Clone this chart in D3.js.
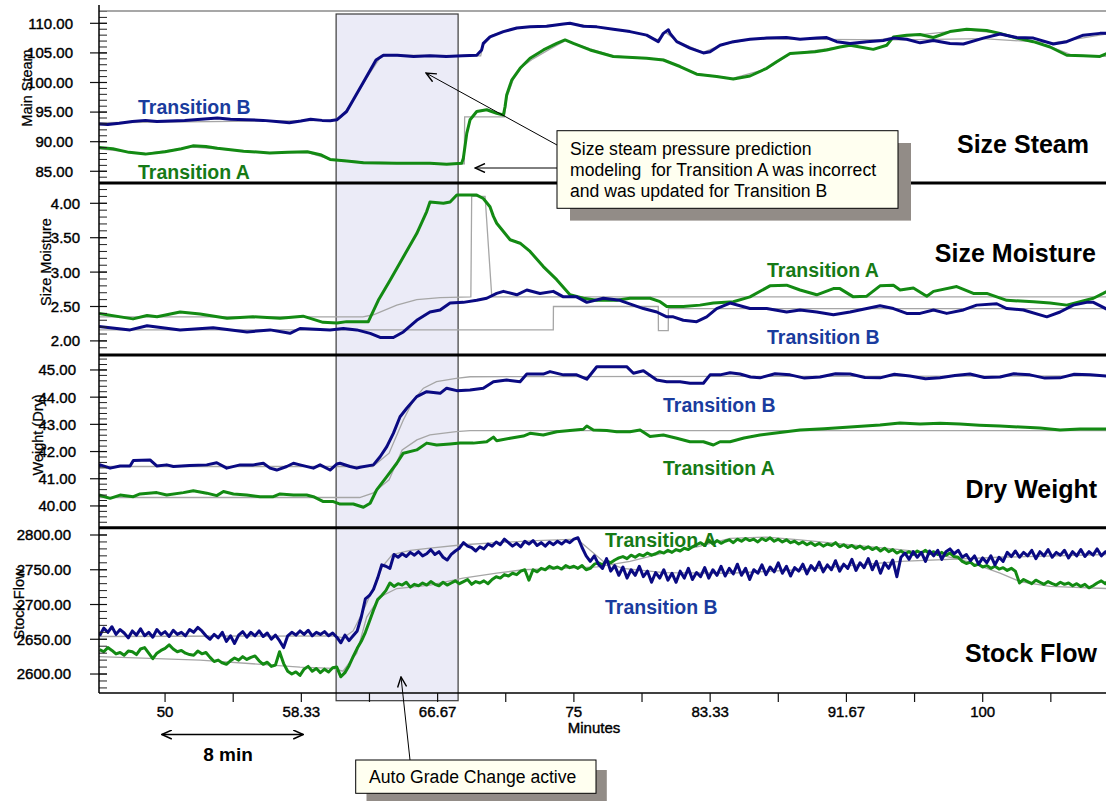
<!DOCTYPE html>
<html><head><meta charset="utf-8">
<script src="https://cdn.jsdelivr.net/npm/d3@7/dist/d3.min.js"></script>
<style>body{margin:0;background:#fff;} svg{display:block;font-family:Arial,"Liberation Sans",sans-serif;} .heavy{stroke:#000;stroke-width:0.4px;}</style>
</head><body><svg id="c" width="1106" height="801"></svg>
<script>
// ---------- DATA ----------
const xTickVals = [50, 58.333, 66.667, 75, 83.333, 91.667, 100];
const xTickLabels = ["50", "58.33", "66.67", "75", "83.33", "91.67", "100"];
const steamTicks = [85, 90, 95, 100, 105, 110];
const moistTicks = [2, 2.5, 3, 3.5, 4];
const weightTicks = [40, 41, 42, 43, 44, 45];
const flowTicks = [2600, 2650, 2700, 2750, 2800];

const steamB = [[45.96,93.0],[46.5,92.9],[47.2,93.1],[48.0,93.4],[48.8,93.6],[49.5,93.4],[50.3,93.5],[51.2,93.6],[52.2,93.8],[53.2,94.0],[54.0,93.8],[55.0,93.7],[56.0,93.6],[56.8,93.4],[57.6,93.2],[58.3,93.5],[58.9,93.8],[59.6,93.6],[60.1,93.55],[60.5,93.7],[61.1,95.1],[62.1,99.9],[62.9,103.8],[63.35,104.6],[64.2,104.6],[65.2,104.4],[66.2,104.5],[67.2,104.4],[68.2,104.5],[69.06,104.6],[69.36,105.5],[69.46,106.6],[69.87,107.7],[70.69,108.6],[71.51,109.2],[72.32,109.4],[73.34,109.5],[74.36,109.9],[74.76,110.0],[75.58,109.5],[76.4,109.4],[77.41,109.0],[78.43,108.6],[79.45,108.0],[80.16,106.9],[80.47,108.3],[80.78,108.9],[80.88,108.3],[81.29,106.9],[82.1,105.8],[82.92,105.0],[83.33,105.2],[83.94,106.3],[84.75,106.9],[85.77,107.3],[86.79,107.5],[88.0,107.6],[88.83,107.3],[89.85,107.5],[90.46,107.6],[91.07,106.9],[91.89,106.6],[92.91,106.9],[93.92,107.1],[94.54,107.5],[95.35,107.3],[96.17,106.7],[96.98,107.1],[98.0,106.6],[98.82,106.5],[100.04,107.5],[101.06,108.2],[102.08,107.6],[103.1,107.5],[104.32,106.5],[105.14,106.9],[106.15,108.0],[107.17,108.3],[107.6,108.3]];
const steamA = [[45.96,89.0],[46.8,88.8],[47.8,88.2],[48.8,87.9],[50.0,88.3],[51.0,88.8],[51.7,89.3],[52.5,89.2],[53.2,88.9],[54.8,88.4],[56.4,88.1],[57.5,88.2],[58.7,88.3],[59.5,87.8],[60.09,87.0],[61.11,86.75],[62.13,86.45],[64.17,86.35],[66.2,86.35],[67.22,86.2],[68.14,86.35],[68.24,87.2],[68.45,91.4],[68.65,93.7],[69.06,95.1],[69.67,95.4],[70.28,94.8],[70.69,94.5],[70.79,95.9],[70.89,97.9],[71.2,100.4],[71.71,102.4],[72.32,104.1],[73.14,105.5],[73.95,106.6],[74.46,107.2],[74.97,106.6],[75.99,105.5],[77.41,104.4],[79.45,104.1],[80.47,103.8],[81.49,102.7],[82.51,101.4],[83.73,101.0],[84.75,100.6],[85.77,101.1],[86.79,102.4],[87.4,103.5],[88.22,104.9],[89.75,105.2],[90.46,105.5],[91.27,106.0],[91.89,106.3],[92.5,106.0],[93.31,105.6],[94.13,106.3],[94.54,107.7],[95.35,108.0],[96.17,108.1],[96.98,107.6],[98.0,108.6],[99.02,109.0],[100.24,108.8],[101.06,108.3],[102.08,107.5],[103.1,106.9],[104.12,106.0],[105.14,104.6],[106.15,104.5],[107.17,104.4],[107.6,104.9]];
const steamGrayA = [[45.96,88.8],[48.8,88.0],[51.7,89.1],[56.4,88.1],[58.7,88.2],[60.1,87.0],[62.1,86.6],[66.2,86.3],[68.3,86.25],[68.32,94.2],[70.75,94.2],[70.9,97.5],[71.3,100.6],[71.8,102.6],[72.5,104.0],[73.5,105.6],[74.5,107.1],[76.0,105.7],[77.4,104.5],[80.5,103.9],[82.5,101.5],[84.7,100.7],[86.8,102.3],[88.2,104.8],[91.3,106.0],[94.5,107.6],[96.2,108.1],[99.0,108.9],[101.1,108.3],[104.1,106.1],[105.5,104.6],[107.6,104.4]];
const steamGrayB = [[45.96,93.2],[60.5,93.6],[60.8,94.2],[61.5,97.0],[62.5,101.5],[63.2,104.4],[64.0,104.6],[69.3,104.5],[69.45,106.3],[70.0,108.0],[71.5,109.2],[74.8,110.0],[77.4,109.0],[79.4,108.1],[80.1,107.2],[80.6,108.5],[81.3,107.0],[82.9,105.1],[84.0,106.3],[86.0,107.4],[90.0,107.3],[95.0,107.2],[100.0,107.4],[104.3,106.7],[107.6,108.2]];

const moistA = [[45.96,2.40],[48.04,2.32],[48.9,2.37],[49.51,2.35],[50.92,2.42],[52.14,2.39],[53.79,2.33],[55.38,2.35],[57.03,2.33],[58.44,2.36],[59.66,2.27],[60.52,2.26],[61.11,2.28],[62.43,2.28],[63.04,2.59],[63.76,2.88],[64.57,3.22],[65.39,3.56],[66.0,3.88],[66.2,4.02],[67.02,4.0],[67.43,4.02],[67.84,4.12],[69.06,4.12],[69.46,4.07],[69.87,3.95],[70.08,3.81],[70.28,3.71],[71.1,3.47],[71.71,3.42],[72.32,3.30],[73.13,3.08],[73.95,2.89],[74.76,2.67],[75.58,2.62],[76.4,2.59],[77.62,2.59],[78.43,2.62],[79.66,2.62],[80.27,2.57],[80.68,2.50],[81.69,2.50],[82.71,2.52],[83.53,2.55],[84.75,2.57],[85.77,2.64],[86.99,2.80],[88.01,2.81],[88.83,2.74],[89.85,2.67],[90.87,2.76],[91.27,2.76],[92.09,2.64],[92.91,2.65],[93.72,2.80],[94.54,2.81],[94.95,2.74],[95.76,2.77],[96.58,2.65],[96.99,2.72],[98.41,2.79],[99.43,2.69],[100.25,2.69],[101.47,2.59],[103.1,2.57],[104.12,2.55],[105.14,2.52],[106.77,2.62],[107.37,2.69],[107.6,2.72]];
const moistB = [[45.96,2.21],[47.86,2.16],[48.9,2.22],[50.92,2.16],[52.94,2.19],[55.01,2.13],[56.42,2.16],[57.64,2.11],[58.25,2.18],[60.09,2.16],[60.9,2.18],[61.72,2.16],[62.54,2.11],[63.15,2.05],[63.96,2.05],[64.57,2.13],[65.39,2.30],[66.2,2.42],[66.82,2.45],[67.43,2.55],[68.24,2.56],[69.06,2.59],[69.67,2.62],[70.28,2.69],[70.69,2.72],[71.51,2.67],[72.12,2.74],[72.93,2.69],[73.74,2.72],[74.36,2.64],[75.17,2.64],[75.79,2.56],[76.8,2.62],[77.82,2.59],[78.02,2.57],[79.25,2.47],[80.07,2.42],[80.68,2.35],[81.08,2.35],[81.69,2.30],[82.51,2.28],[83.12,2.35],[83.73,2.47],[84.55,2.55],[85.77,2.47],[86.79,2.47],[88.01,2.42],[88.83,2.45],[89.85,2.42],[90.87,2.38],[91.89,2.42],[93.72,2.51],[94.54,2.47],[95.35,2.40],[96.17,2.40],[96.99,2.45],[97.8,2.40],[98.82,2.45],[99.63,2.52],[100.86,2.54],[101.47,2.47],[102.49,2.45],[103.92,2.35],[104.73,2.42],[105.54,2.52],[106.36,2.56],[106.77,2.56],[107.6,2.46]];
const moistGrayA = [[45.96,2.35],[62.1,2.35],[62.74,2.38],[64.17,2.52],[65.39,2.60],[66.82,2.63],[68.7,2.64],[68.75,4.10],[69.57,4.10],[69.98,2.64],[107.6,2.64]];
const moistGrayB = [[45.96,2.16],[73.74,2.16],[73.75,2.50],[80.16,2.50],[80.17,2.15],[80.77,2.15],[80.78,2.47],[107.6,2.47]];

const weightB = [[45.96,41.45],[46.03,41.51],[46.64,41.39],[47.25,41.47],[47.86,41.47],[48.06,41.67],[49.08,41.69],[49.49,41.47],[50.1,41.51],[50.51,41.45],[51.5,41.49],[52.55,41.51],[53.16,41.59],[53.77,41.39],[54.59,41.51],[55.4,41.51],[56.01,41.57],[56.42,41.39],[56.83,41.32],[57.44,41.45],[57.85,41.57],[58.25,41.51],[59.07,41.39],[59.48,41.51],[60.09,41.32],[60.5,41.54],[60.7,41.57],[61.31,41.45],[61.72,41.39],[61.92,41.42],[62.74,41.51],[63.15,41.81],[63.56,42.18],[63.96,42.67],[64.37,43.28],[64.78,43.59],[65.39,44.02],[66.0,44.20],[66.82,44.14],[67.22,44.33],[67.84,44.24],[68.65,44.26],[69.46,44.33],[70.08,44.57],[70.89,44.63],[71.71,44.57],[72.12,44.85],[73.13,44.85],[73.54,44.94],[74.36,44.82],[75.17,44.82],[75.79,44.66],[76.4,45.12],[77.42,45.12],[78.23,45.12],[78.64,44.88],[79.25,44.97],[80.07,44.63],[80.68,44.57],[81.49,44.57],[82.1,44.51],[82.92,44.51],[83.33,44.82],[83.94,44.82],[84.55,44.90],[85.16,44.85],[85.8,44.74],[86.38,44.71],[87.3,44.86],[88.22,44.82],[89.1,44.70],[90.05,44.74],[91.0,44.86],[91.89,44.85],[92.8,44.72],[93.72,44.71],[94.6,44.84],[95.55,44.78],[96.5,44.68],[97.39,44.71],[98.3,44.80],[99.22,44.85],[100.1,44.72],[101.06,44.74],[101.9,44.86],[102.89,44.82],[103.8,44.70],[104.73,44.71],[105.6,44.84],[106.56,44.82],[107.6,44.78]];
const weightA = [[45.96,40.40],[46.64,40.28],[47.25,40.40],[48.06,40.34],[48.47,40.44],[49.49,40.49],[50.1,40.40],[51.12,40.49],[51.73,40.56],[52.55,40.47],[53.16,40.38],[53.57,40.53],[54.18,40.44],[54.99,40.40],[55.81,40.34],[56.62,40.34],[57.03,40.44],[57.85,40.40],[58.66,40.40],[59.07,40.34],[59.68,40.16],[60.29,40.16],[60.7,40.07],[61.51,40.07],[62.13,39.95],[62.54,40.10],[62.94,40.59],[63.56,41.08],[64.17,41.57],[64.57,41.94],[65.39,42.06],[66.0,42.31],[66.61,42.24],[67.43,42.28],[68.04,42.31],[68.85,42.31],[69.67,42.36],[70.08,42.53],[70.28,42.40],[71.1,42.49],[71.91,42.57],[72.32,42.67],[73.13,42.61],[73.95,42.73],[74.76,42.77],[75.58,42.82],[75.79,42.94],[76.19,42.79],[77.01,42.77],[77.62,42.73],[78.43,42.73],[79.05,42.79],[79.66,42.55],[80.47,42.61],[81.29,42.49],[82.1,42.36],[82.92,42.36],[83.53,42.24],[83.94,42.36],[84.55,42.36],[85.4,42.50],[86.38,42.61],[87.6,42.70],[88.83,42.79],[90.3,42.84],[91.89,42.90],[92.8,42.94],[93.72,42.98],[94.94,43.05],[96.17,43.01],[97.4,43.04],[98.61,43.01],[99.8,42.97],[101.06,42.94],[102.3,42.90],[103.5,42.87],[104.73,42.79],[105.95,42.83],[107.6,42.83]];
const weightGrayA = [[45.96,40.31],[61.9,40.31],[62.7,40.47],[63.7,40.96],[64.5,42.06],[65.4,42.43],[66.2,42.61],[67.8,42.73],[68.65,42.77],[107.6,42.77]];
const weightGrayB = [[45.96,41.45],[62.7,41.45],[63.7,41.94],[64.57,43.16],[65.2,43.90],[65.8,44.33],[66.6,44.57],[67.8,44.69],[68.65,44.75],[107.6,44.78]];

// Stock flow sampled every 0.25 min starting at 46.0 min
const flowStart = 46, flowStep = 0.25;
const flowB = [
2655,2666,2660,2668,2657,2664,2659,2652, 2662,2656,2665,2655,2660,2653,2664,2657,
2661,2654,2663,2657,2660,2655,2664,2660, 2667,2662,2655,2650,2657,2652,2660,2647,
2655,2644,2656,2661,2653,2660,2655,2662, 2654,2659,2650,2656,2648,2638,2655,2660,
2656,2662,2657,2663,2655,2660,2657,2661, 2655,2659,2653,2645,2656,2648,2655,2662,
2682,2708,2713,2722,2738,2757,2755,2752, 2772,2768,2773,2769,2775,2771,2776,2770,
2773,2779,2772,2776,2768,2764,2772,2777, 2781,2789,2784,2782,2777,2783,2780,2787,
2784,2790,2786,2794,2789,2784,2788,2783, 2791,2787,2792,2785,2789,2784,2790,2786,
2791,2787,2792,2789,2794,2796,2782,2770, 2762,2770,2758,2752,2766,2748,2756,2742,
2754,2738,2750,2742,2755,2740,2748,2732, 2746,2738,2750,2735,2745,2732,2748,2738,
2752,2736,2746,2740,2753,2738,2750,2742, 2755,2741,2752,2744,2758,2742,2752,2736,
2750,2745,2757,2743,2754,2747,2760,2745, 2755,2741,2753,2748,2758,2744,2756,2749,
2761,2747,2757,2750,2763,2748,2758,2752, 2765,2749,2760,2753,2766,2750,2762,2745,
2760,2752,2764,2740,2768,2774,2765,2776, 2768,2775,2762,2777,2770,2778,2765,2776,
2780,2773,2778,2768,2772,2763,2770,2758, 2767,2760,2770,2757,2768,2762,2775,2769,
2777,2768,2775,2770,2778,2766,2776,2770, 2779,2768,2775,2771,2778,2767,2776,2770,
2779,2769,2776,2771,2780,2770,2776,2772];
const flowA = [
2635,2632,2638,2634,2629,2631,2627,2633, 2632,2628,2636,2638,2630,2622,2630,2634,
2637,2642,2636,2632,2634,2630,2628,2627, 2633,2629,2631,2624,2618,2620,2616,2614,
2619,2623,2620,2625,2621,2624,2626,2619, 2614,2617,2611,2613,2632,2615,2604,2600,
2603,2598,2607,2611,2604,2608,2602,2607, 2603,2609,2610,2596,2602,2612,2625,2637,
2647,2660,2676,2692,2707,2713,2720,2731, 2726,2730,2728,2732,2725,2729,2727,2731,
2728,2733,2729,2727,2732,2728,2731,2734, 2730,2733,2736,2729,2733,2731,2734,2730,
2736,2740,2738,2743,2741,2745,2743,2748, 2750,2735,2750,2747,2752,2750,2755,2752,
2754,2751,2756,2753,2755,2752,2756,2750, 2752,2758,2760,2757,2763,2760,2764,2767,
2769,2766,2771,2768,2772,2770,2774,2771, 2773,2776,2774,2778,2775,2779,2777,2781,
2779,2783,2786,2789,2785,2793,2787,2792, 2788,2791,2793,2789,2794,2791,2795,2792,
2794,2790,2795,2792,2796,2791,2794,2790, 2793,2789,2791,2787,2790,2786,2789,2785,
2788,2784,2787,2785,2789,2783,2786,2782, 2785,2781,2784,2780,2783,2779,2782,2777,
2781,2776,2779,2774,2777,2773,2776,2772, 2777,2774,2778,2773,2776,2772,2775,2771,
2774,2769,2768,2762,2759,2761,2756,2758, 2754,2756,2752,2755,2751,2753,2749,2752,
2748,2731,2736,2733,2730,2735,2732,2729, 2733,2730,2728,2732,2729,2731,2727,2730,
2726,2729,2724,2727,2731,2734,2730,2736];
const flowGrayA = [[45.96,2625],[52.14,2620],[58.25,2610],[60.27,2608],[60.88,2604],[61.72,2630],[62.33,2682],[63.15,2711],[64.17,2723],[66.2,2728],[68.22,2738],[70.28,2745],[71.89,2750],[74.34,2752],[76.42,2754],[78.43,2762],[80.45,2774],[82.53,2783],[84.55,2795],[86.81,2797],[88.83,2793],[94.94,2779],[96.96,2774],[99.04,2762],[101.06,2745],[102.28,2733],[104.11,2726],[107.6,2723]];
const flowGrayB = [[45.96,2654],[60.27,2655],[60.9,2652],[61.5,2662],[62.1,2690],[62.7,2722],[63.3,2755],[63.9,2772],[65.0,2778],[66.2,2781],[68.2,2786],[70.3,2789],[72.7,2792],[75.2,2794],[76.0,2778],[76.8,2762],[78.0,2752],[80.5,2746],[84.5,2745],[88.8,2750],[95.0,2762],[101.0,2768],[107.6,2772]];

// ---------- DRAW ----------
const svg = d3.select("#c");
const colA = "#138a13", colB = "#0a0a82", gray = "#a6a6a6";
const labA = "#167a16", labB = "#1a3c9e";
const x = d3.scaleLinear().domain([45.96, 107.54]).range([99, 1106]);
const L = 99, R = 1106;

const panels = [
  {id:"p1", top:11, bot:183, dom:[112.08,83.02], ticks:steamTicks, minor:1, labR:73, title:"Main Steam", tx:27, ty:88,
   gray:[steamGrayA, steamGrayB], A:steamA, B:steamB},
  {id:"p2", top:183.7, bot:355, dom:[4.285,1.795], ticks:moistTicks, minor:0.1, labR:80, title:"Size Moisture", tx:46, ty:262,
   gray:[moistGrayA, moistGrayB], A:moistA, B:moistB},
  {id:"p3", top:355, bot:527.7, dom:[45.55,39.2], ticks:weightTicks, minor:0.2, labR:76, title:"Weight (Dry)", tx:38, ty:435,
   gray:[weightGrayA, weightGrayB], A:weightA, B:weightB},
  {id:"p4", top:527.7, bot:693, dom:[2810.5,2572.7], ticks:flowTicks, minor:10, labR:71, title:"Stock Flow", tx:19, ty:604,
   gray:[flowGrayA, flowGrayB],
   A:flowA.map((v,i)=>[flowStart+i*flowStep, v]), B:flowB.map((v,i)=>[flowStart+i*flowStep, v])}
];

// grade change shaded box (behind data)
svg.append("rect").attr("x", x(60.46)).attr("y", 14).attr("width", x(67.92)-x(60.46)).attr("height", 686.7)
  .attr("fill", "#ebebf7").attr("stroke", "#3a3a3a").attr("stroke-width", 1.2);

const defs = svg.append("defs");
panels.forEach(p => {
  p.y = d3.scaleLinear().domain(p.dom).range([p.top, p.bot]);
  defs.append("clipPath").attr("id", "clip-"+p.id).append("rect")
    .attr("x", L).attr("y", p.top).attr("width", R-L).attr("height", p.bot-p.top);
  const line = d3.line().x(d => x(d[0])).y(d => p.y(d[1]));
  const g = svg.append("g").attr("clip-path", "url(#clip-"+p.id+")");
  p.gray.forEach(s => g.append("path").attr("d", line(s)).attr("fill","none").attr("stroke",gray).attr("stroke-width",1.3));
  g.append("path").attr("d", line(p.A)).attr("fill","none").attr("stroke",colA).attr("stroke-width",3).attr("stroke-linejoin","round");
  g.append("path").attr("d", line(p.B)).attr("fill","none").attr("stroke",colB).attr("stroke-width",3).attr("stroke-linejoin","round");

  // y-axis title (drawn first so tick labels overlap it as in the original)
  svg.append("text").attr("class","heavy").attr("transform", `translate(${p.tx},${p.ty}) rotate(-90)`).attr("text-anchor","middle")
    .attr("dy","0.35em").attr("font-size","14.5px").attr("fill","#000").style("stroke-width","0.25px").text(p.title);

  // y ticks
  const ax = svg.append("g");
  const d0 = Math.min(...p.dom), d1 = Math.max(...p.dom);
  const minors = d3.range(Math.ceil(d0/p.minor)*p.minor, d1, p.minor).filter(v => v>d0 && v<d1);
  minors.forEach(v => ax.append("line").attr("x1", L).attr("x2", L+8).attr("y1", p.y(v)).attr("y2", p.y(v)).attr("stroke","#222").attr("stroke-width",1));
  p.ticks.forEach(v => {
    ax.append("line").attr("x1", L-9).attr("x2", L+8).attr("y1", p.y(v)).attr("y2", p.y(v)).attr("stroke","#111").attr("stroke-width",1.2);
    const t = ax.append("text").attr("class","heavy").attr("x", 0).attr("y", p.y(v)).attr("dy","0.36em")
      .attr("font-size","15px").attr("fill","#000").text(d3.format(".2f")(v));
    const w = t.node().getComputedTextLength();
    t.attr("x", p.labR - w);
  });
});

// frame lines
svg.append("line").attr("x1",L).attr("x2",R).attr("y1",11).attr("y2",11).attr("stroke","#8a8a8a").attr("stroke-width",1.5);
[183, 355, 527.7].forEach(yy => svg.append("line").attr("x1",L).attr("x2",R).attr("y1",yy).attr("y2",yy).attr("stroke","#000").attr("stroke-width",3));
svg.append("line").attr("x1",L).attr("x2",R).attr("y1",693).attr("y2",693).attr("stroke","#000").attr("stroke-width",1.5);
svg.append("line").attr("x1",L).attr("x2",L).attr("y1",5).attr("y2",693).attr("stroke","#000").attr("stroke-width",1.5);

// x axis
const xt = d3.range(0, 14).map(k => 50 + k*25/6).filter(v => v <= 107.5);
xt.forEach(v => svg.append("line").attr("x1",x(v)).attr("x2",x(v)).attr("y1",693).attr("y2",702).attr("stroke","#111").attr("stroke-width",1.2));
xTickVals.forEach((v,i) => svg.append("text").attr("class","heavy").attr("x",x(v)).attr("y",717).attr("text-anchor","middle")
  .attr("font-size","15px").attr("fill","#000").text(xTickLabels[i]));
svg.append("text").attr("class","heavy").attr("x",594).attr("y",732.5).attr("text-anchor","middle").attr("font-size","15px")
  .attr("fill","#000").text("Minutes");

// series labels
const lab = (t, xx, yy, c) => svg.append("text").attr("x",xx).attr("y",yy).attr("font-size","19.5px").attr("font-weight","bold").attr("fill",c).text(t);
lab("Transition B",138,114,labB); lab("Transition A",138,179,labA);
lab("Transition A",767,277,labA); lab("Transition B",767,344,labB);
lab("Transition B",663,412,labB); lab("Transition A",663,475,labA);
lab("Transition A",605,547,labA); lab("Transition B",605,614,labB);

// panel titles
const ttl = (t, xx, yy) => svg.append("text").attr("x",xx).attr("y",yy).attr("text-anchor","end").attr("font-size","25px").attr("font-weight","bold").attr("fill","#000").text(t);
ttl("Size Steam",1089,153); ttl("Size Moisture",1096,262); ttl("Dry Weight",1097,498); ttl("Stock Flow",1097,662);

// arrow marker
defs.append("marker").attr("id","arr").attr("viewBox","0 0 12 10").attr("refX",11).attr("refY",5)
  .attr("markerWidth",12).attr("markerHeight",10).attr("markerUnits","userSpaceOnUse").attr("orient","auto-start-reverse")
  .append("path").attr("d","M1,0.5 L11,5 L1,9.5").attr("fill","none").attr("stroke","#000").attr("stroke-width",1.4);

// 8 min arrow
svg.append("line").attr("x1",x(49.8)).attr("x2",x(58.45)).attr("y1",734.5).attr("y2",734.5).attr("stroke","#000").attr("stroke-width",1.5)
  .attr("marker-start","url(#arr)").attr("marker-end","url(#arr)");
svg.append("text").attr("x",228).attr("y",761).attr("text-anchor","middle").attr("font-size","19px").attr("font-weight","bold").text("8 min");

// annotation 1
svg.append("line").attr("x1",557).attr("y1",145).attr("x2",426).attr("y2",73).attr("stroke","#000").attr("stroke-width",1).attr("marker-end","url(#arr)");
svg.append("line").attr("x1",557).attr("y1",168).attr("x2",475).attr("y2",168).attr("stroke","#000").attr("stroke-width",1).attr("marker-end","url(#arr)");
svg.append("rect").attr("x",570).attr("y",143).attr("width",341).attr("height",77.6).attr("fill","#928c87");
svg.append("rect").attr("x",557).attr("y",130.7).attr("width",341).attr("height",77.6).attr("fill","#fffff0").attr("stroke","#000").attr("stroke-width",1);
["Size steam pressure prediction","modeling  for Transition A was incorrect","and was updated for Transition B"].forEach((t,i) =>
  svg.append("text").attr("x",570).attr("y",155+i*21.2).attr("font-size","17.6px").attr("fill","#000").style("white-space","pre").text(t));

// annotation 2
svg.append("line").attr("x1",410).attr("y1",760).attr("x2",401).attr("y2",677).attr("stroke","#000").attr("stroke-width",1).attr("marker-end","url(#arr)");
svg.append("rect").attr("x",366.5).attr("y",770).attr("width",240.3).attr("height",33.3).attr("fill","#928c87");
svg.append("rect").attr("x",355.7).attr("y",760).attr("width",240.3).attr("height",33.3).attr("fill","#fffff0").attr("stroke","#000").attr("stroke-width",1);
svg.append("text").attr("x",369).attr("y",783).attr("font-size","17.6px").attr("fill","#000").text("Auto Grade Change active");
</script></body></html>
